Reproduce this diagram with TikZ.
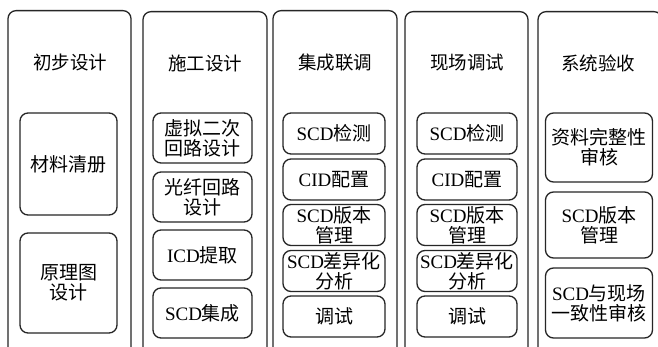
\documentclass[tikz,border=0pt]{standalone}
\usepackage{fontspec}
\setmainfont{Liberation Serif}
\newfontfamily\cjk{Noto Sans CJK SC}
\newcommand{\lt}[1]{{\rmfamily #1}}
\tikzset{
  colbox/.style={draw=black!85, line width=1.3pt, rounded corners=8pt},
  inbox/.style={draw=black!85, line width=1.3pt, rounded corners=8pt, align=center,
    inner sep=0pt, font=\cjk\fontsize{19}{20}\selectfont},
  title/.style={font=\cjk\fontsize{18.5}{20}\selectfont, inner sep=0pt}
}
\begin{document}
\begin{tikzpicture}[x=1pt,y=-1pt]
\useasboundingbox (0,0) rectangle (658,347);
\clip (0,0) rectangle (658,347);
\fill[white] (0,0) rectangle (658,347);
% columns
\node[colbox, minimum width=123pt, minimum height=380pt, anchor=north] (c1) at (69.5,10) {};
\node[colbox, minimum width=124pt, minimum height=380pt, anchor=north] (c2) at (205,11) {};
\node[colbox, minimum width=124pt, minimum height=380pt, anchor=north] (c3) at (335,10) {};
\node[colbox, minimum width=123pt, minimum height=380pt, anchor=north] (c4) at (466.5,11) {};
\node[colbox, minimum width=124pt, minimum height=380pt, anchor=north] (c5) at (600,11) {};
% titles
\node[title] (t1) at (70,63) {初步设计};
\node[title] (t2) at (205,63) {施工设计};
\node[title] (t3) at (335,63) {集成联调};
\node[title] (t4) at (467,63) {现场调试};
\node[title] (t5) at (598,63) {系统验收};
% column 1
\node[inbox, minimum width=97pt, minimum height=102pt] (a1) at (68.5,164) {材料清册};
\node[inbox, minimum width=97pt, minimum height=100pt] (a2) at (68.5,283) {原理图\\设计};
% column 2
\node[inbox, minimum width=99pt, minimum height=50pt] (b1) at (202.5,138) {虚拟二次\\回路设计};
\node[inbox, minimum width=99pt, minimum height=50pt] (b2) at (202.5,197) {光纤回路\\设计};
\node[inbox, minimum width=99pt, minimum height=50pt] (b3) at (202.5,255) {\lt{ICD}提取};
\node[inbox, minimum width=99pt, minimum height=50pt] (b4) at (202.5,313) {\lt{SCD}集成};
% column 3
\node[inbox, minimum width=102pt, minimum height=41pt] (d1) at (334,133.5) {\lt{SCD}检测};
\node[inbox, minimum width=102pt, minimum height=41pt] (d2) at (334,179.5) {\lt{CID}配置};
\node[inbox, minimum width=102pt, minimum height=41pt] (d3) at (334,225) {\lt{SCD}版本\\管理};
\node[inbox, minimum width=102pt, minimum height=41pt] (d4) at (334,271) {\lt{SCD}差异化\\分析};
\node[inbox, minimum width=102pt, minimum height=41pt] (d5) at (334,316.5) {调试};
% column 4
\node[inbox, minimum width=100pt, minimum height=41pt] (e1) at (467,133.5) {\lt{SCD}检测};
\node[inbox, minimum width=100pt, minimum height=41pt] (e2) at (467,179.5) {\lt{CID}配置};
\node[inbox, minimum width=100pt, minimum height=41pt] (e3) at (467,225) {\lt{SCD}版本\\管理};
\node[inbox, minimum width=100pt, minimum height=41pt] (e4) at (467,271) {\lt{SCD}差异化\\分析};
\node[inbox, minimum width=100pt, minimum height=41pt] (e5) at (467,316.5) {调试};
% column 5
\node[inbox, minimum width=107pt, minimum height=69pt] (f1) at (599,147.5) {资料完整性\\审核};
\node[inbox, minimum width=107pt, minimum height=66pt] (f2) at (599,225) {\lt{SCD}版本\\管理};
\node[inbox, minimum width=107pt, minimum height=70pt] (f3) at (599,303) {\lt{SCD}与现场\\一致性审核};
\end{tikzpicture}
\end{document}
